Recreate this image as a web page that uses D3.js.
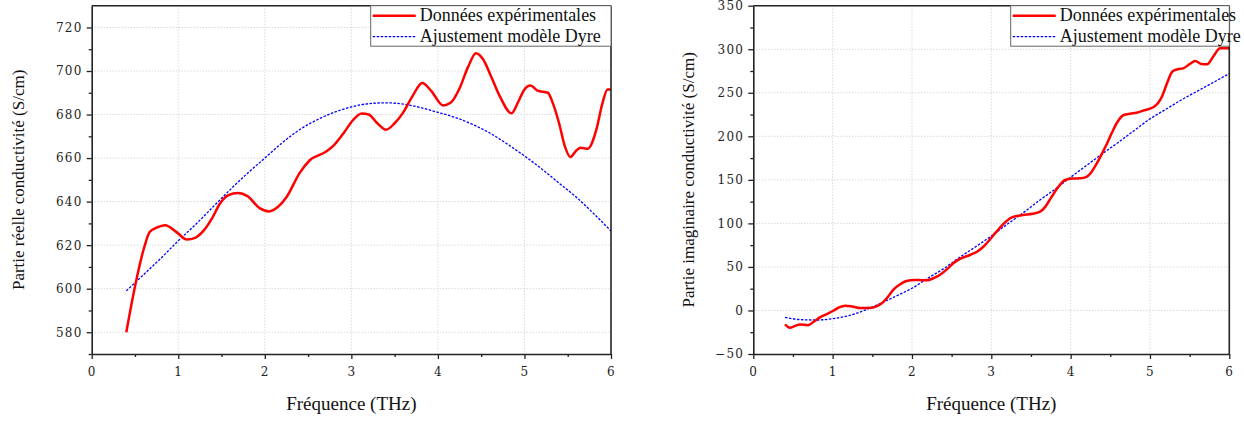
<!DOCTYPE html>
<html>
<head>
<meta charset="utf-8">
<script src="https://cdn.jsdelivr.net/npm/d3@7"></script>
<style>
  html, body { margin: 0; padding: 0; background: #fff; }
  svg { display: block; }
  .tick text { font-family: "DejaVu Serif", serif !important; }
</style>
</head>
<body>
<svg id="chart" width="1244" height="421"></svg>
<script>
// ---------- DATA ----------
const xTicks = [0, 1, 2, 3, 4, 5, 6];
const xMinorTicks = [0.5, 1.5, 2.5, 3.5, 4.5, 5.5];

// Left panel: real part
const realTicks = [580, 600, 620, 640, 660, 680, 700, 720];
const realMinorTicks = [570, 590, 610, 630, 650, 670, 690, 710];
const realExpFreq = [0.40,0.50,0.60,0.67,0.75,0.85,0.98,1.10,1.20,1.30,1.40,1.48,1.58,1.69,1.80,1.94,2.05,2.15,2.25,2.40,2.52,2.71,2.80,2.92,3.02,3.12,3.20,3.30,3.40,3.50,3.60,3.70,3.82,3.92,4.06,4.15,4.25,4.35,4.44,4.52,4.62,4.72,4.85,4.93,5.00,5.07,5.15,5.27,5.33,5.40,5.47,5.53,5.60,5.65,5.73,5.83,5.90,5.96,6.00];
const realExpVal  = [580,601,618,626,628,629.2,626,622.6,623.5,627,633,639,643,644,642.5,637,635.5,637.5,642,653,659,663,666,672,677.5,680.5,680,676,673,676,681,688,694.5,691,684.2,685.5,692,702,708.2,705.5,697,688,680.6,686,691.5,693.3,691,690,685,676,665,660.5,663.5,664.8,664.3,673,685,691.5,691.5];
const realFitFreq = [0.4,0.6,0.8,1.0,1.2,1.4,1.6,1.8,2.0,2.2,2.4,2.6,2.8,3.0,3.2,3.4,3.6,3.8,4.0,4.2,4.4,4.6,4.8,5.0,5.2,5.4,5.6,5.8,6.0];
const realFitVal  = [599,606.5,614,622,629.5,637.5,645.5,653,660,667,673,677.5,681,683.5,685,685.4,684.8,683.2,681,678.7,675.5,671.5,666.5,661,655,648.5,642,634.5,626.5];

// Right panel: imaginary part
const imagTicks = [-50, 0, 50, 100, 150, 200, 250, 300, 350];
const imagMinorTicks = [-25, 25, 75, 125, 175, 225, 275, 325];
const imagExpFreq = [0.40,0.46,0.52,0.59,0.69,0.76,0.84,0.92,1.01,1.08,1.16,1.25,1.35,1.49,1.56,1.62,1.70,1.77,1.85,1.93,2.04,2.12,2.19,2.27,2.35,2.45,2.52,2.60,2.73,2.82,2.90,3.03,3.10,3.16,3.26,3.40,3.52,3.615,3.68,3.75,3.83,3.93,4.02,4.12,4.20,4.27,4.33,4.40,4.46,4.52,4.58,4.67,4.75,4.83,4.93,5.04,5.10,5.15,5.22,5.28,5.35,5.42,5.50,5.57,5.65,5.72,5.80,5.885,5.95,6.00];
const imagExpVal  = [-16,-19.8,-18,-16,-17,-13,-8,-4.5,-0.3,3.5,5.5,4.5,2.8,3,5,8.2,16,24.3,30,33.8,35,34.8,34.7,37,40.7,48,54.2,59,63.7,67.5,73.2,86.7,94,100,107,109.6,111,113.5,119,129,140,149.8,151.5,151.8,153.5,160,169,181,192,204,215,224.5,226,227,230,233.3,238,245.5,262,274.2,277,278,283,286.5,283,282.7,292,301,301,301];
const imagFitFreq = [0.4,0.6,0.8,1.0,1.2,1.4,1.6,1.8,2.0,2.2,2.4,2.6,2.8,3.0,3.2,3.4,3.6,3.8,4.0,4.2,4.4,4.6,4.8,5.0,5.2,5.4,5.6,5.8,6.0];
const imagFitVal  = [-8,-10.5,-11,-9.5,-6,0,8,16.5,25.5,37,48,61,73,85.5,99,112,126,139,153,166.5,180,193,206.5,220,231,242,252,262,272];

const legendLabels = ["Données expérimentales", "Ajustement modèle Dyre"];
const xTitle = "Fréquence (THz)";
const yTitles = ["Partie réelle conductivité (S/cm)", "Partie imaginaire conductivité (S/cm)"];

// ---------- DRAW ----------
const svg = d3.select("#chart");
const serif = "'Liberation Serif', 'Times New Roman', serif";

function panel(opts) {
  const { x0, x1, yBottom, yTop, yDomain, yTicksMaj, yTicksMin, exp, fit, yTitle, yTitleX, legendX } = opts;
  const x = d3.scaleLinear().domain([0, 6]).range([x0, x1]);
  const y = d3.scaleLinear().domain(yDomain).range([yBottom, yTop]);
  const g = svg.append("g");

  // grid
  g.append("g").selectAll("line").data(xTicks.filter(t => t > 0 && t < 6)).join("line")
    .attr("x1", d => x(d)).attr("x2", d => x(d)).attr("y1", yTop).attr("y2", yBottom)
    .attr("stroke", "#c8c8c8").attr("stroke-width", 1).attr("stroke-dasharray", "1,2");
  g.append("g").selectAll("line").data(yTicksMaj.filter(t => t > yDomain[0] && t < yDomain[1])).join("line")
    .attr("x1", x0).attr("x2", x1).attr("y1", d => y(d)).attr("y2", d => y(d))
    .attr("stroke", "#c8c8c8").attr("stroke-width", 1).attr("stroke-dasharray", "1,2");

  // lines
  const line = d3.line().x(d => x(d[0])).y(d => y(d[1])).curve(d3.curveMonotoneX);
  g.append("path").datum(fit).attr("d", line).attr("fill", "none")
    .attr("stroke", "#0000ff").attr("stroke-width", 1.3).attr("stroke-dasharray", "2.5,1.5");
  g.append("path").datum(exp).attr("d", line).attr("fill", "none")
    .attr("stroke", "#ff0000").attr("stroke-width", 2.5).attr("stroke-linejoin", "round");

  // x axis
  g.append("g").attr("transform", `translate(0,${yBottom})`)
    .call(d3.axisBottom(x).tickValues(xTicks).tickSize(5).tickSizeOuter(0).tickPadding(8).tickFormat(d3.format("d")));
  g.append("g").attr("transform", `translate(0,${yBottom})`)
    .call(d3.axisBottom(x).tickValues(xMinorTicks).tickSize(3).tickSizeOuter(0).tickFormat(""))
    .select(".domain").remove();
  // y axis
  g.append("g").attr("transform", `translate(${x0},0)`)
    .call(d3.axisLeft(y).tickValues(yTicksMaj).tickSize(5).tickSizeOuter(0).tickPadding(4).tickFormat(d3.format("d")));
  g.append("g").attr("transform", `translate(${x0},0)`)
    .call(d3.axisLeft(y).tickValues(yTicksMin).tickSize(3).tickSizeOuter(0).tickFormat(""))
    .select(".domain").remove();

  g.selectAll(".domain").attr("stroke", "#222").attr("stroke-width", 1.6);
  g.selectAll(".tick line").attr("stroke", "#222").attr("stroke-width", 1.3);
  g.selectAll(".tick text").style("font-size", "12px")
    .style("letter-spacing", "1.3px").attr("fill", "#222");

  // top and right frame
  g.append("line").attr("x1", x0).attr("x2", x1).attr("y1", yTop).attr("y2", yTop)
    .attr("stroke", "#222").attr("stroke-width", 1.6);
  g.append("line").attr("x1", x1).attr("x2", x1).attr("y1", yTop).attr("y2", yBottom)
    .attr("stroke", "#222").attr("stroke-width", 1.6);

  // titles
  g.append("text").attr("x", (x0 + x1) / 2).attr("y", 410).attr("text-anchor", "middle")
    .attr("font-family", serif).attr("font-size", 19).attr("fill", "#111").text(xTitle);
  g.append("text").attr("transform", `translate(${yTitleX},${(yTop + yBottom) / 2}) rotate(-90)`)
    .attr("text-anchor", "middle").attr("font-family", serif).attr("font-size", 17).attr("fill", "#111").text(yTitle);

  // legend
  const lg = g.append("g");
  lg.append("rect").attr("x", legendX).attr("y", yTop).attr("width", x1 - legendX).attr("height", 40.5)
    .attr("fill", "#fff").attr("stroke", "#666").attr("stroke-width", 1);
  const rows = [
    { label: legendLabels[0], color: "#ff0000", w: 2.5, dash: null, yy: yTop + 10 },
    { label: legendLabels[1], color: "#0000ff", w: 1.3, dash: "2.5,1.5", yy: yTop + 31 }
  ];
  rows.forEach(r => {
    lg.append("line").attr("x1", legendX + 2).attr("x2", legendX + 45).attr("y1", r.yy).attr("y2", r.yy)
      .attr("stroke", r.color).attr("stroke-width", r.w).attr("stroke-dasharray", r.dash);
    lg.append("text").attr("x", legendX + 49).attr("y", r.yy + 5.5)
      .attr("font-family", serif).attr("font-size", 18).attr("fill", "#111").text(r.label);
  });
}

panel({
  x0: 91.7, x1: 611, yBottom: 354, yTop: 5.7, yDomain: [570, 730],
  yTicksMaj: realTicks, yTicksMin: realMinorTicks,
  exp: realExpFreq.map((f, i) => [f, realExpVal[i]]),
  fit: realFitFreq.map((f, i) => [f, realFitVal[i]]),
  yTitle: yTitles[0], yTitleX: 24, legendX: 370.7
});
panel({
  x0: 753.3, x1: 1229.3, yBottom: 354, yTop: 5.7, yDomain: [-50, 350],
  yTicksMaj: imagTicks, yTicksMin: imagMinorTicks,
  exp: imagExpFreq.map((f, i) => [f, imagExpVal[i]]),
  fit: imagFitFreq.map((f, i) => [f, imagFitVal[i]]),
  yTitle: yTitles[1], yTitleX: 694, legendX: 1010.7
});
</script>
</body>
</html>
